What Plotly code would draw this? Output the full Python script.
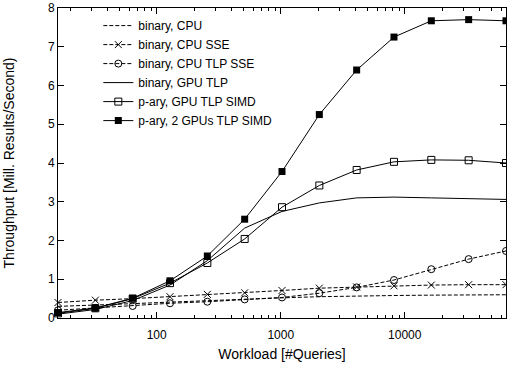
import plotly.graph_objects as go

workload = [16, 32, 64, 128, 256, 512, 1024, 2048, 4096, 8192, 16384, 32768, 65536]

binary_cpu = [0.30, 0.33, 0.37, 0.41, 0.45, 0.49, 0.52, 0.55, 0.57, 0.58, 0.59, 0.60, 0.60]
binary_cpu_sse = [0.40, 0.46, 0.50, 0.55, 0.61, 0.65, 0.71, 0.77, 0.80, 0.83, 0.85, 0.86, 0.86]
binary_cpu_tlp_sse = [0.20, 0.26, 0.31, 0.38, 0.42, 0.48, 0.53, 0.64, 0.79, 0.98, 1.26, 1.52, 1.73]
binary_gpu_tlp = [0.10, 0.22, 0.45, 0.85, 1.48, 2.32, 2.75, 2.97, 3.10, 3.12, 3.10, 3.08, 3.06]
pary_gpu_tlp_simd = [0.12, 0.25, 0.50, 0.90, 1.42, 2.04, 2.86, 3.42, 3.82, 4.03, 4.08, 4.07, 4.00]
pary_2gpu_tlp_simd = [0.14, 0.26, 0.51, 0.96, 1.60, 2.55, 3.78, 5.25, 6.40, 7.25, 7.67, 7.70, 7.67]

series_names = [
    "binary, CPU",
    "binary, CPU SSE",
    "binary, CPU TLP SSE",
    "binary, GPU TLP",
    "p-ary, GPU TLP SIMD",
    "p-ary, 2 GPUs TLP SIMD",
]

x_major_ticks = [100, 1000, 10000]
x_minor_ticks = [20, 30, 40, 50, 60, 70, 80, 90,
                 200, 300, 400, 500, 600, 700, 800, 900,
                 2000, 3000, 4000, 5000, 6000, 7000, 8000, 9000,
                 20000, 30000, 40000, 50000, 60000]
y_ticks = [0, 1, 2, 3, 4, 5, 6, 7, 8]

fig = go.Figure()

styles = [
    dict(dash="4px,2px", mode="lines", marker=None),
    dict(dash="4px,2px", mode="lines+markers", marker=dict(symbol="x-thin-open", size=7, color="black", line=dict(width=1, color="black"))),
    dict(dash="4px,2px", mode="lines+markers", marker=dict(symbol="circle-open", size=7, color="black", line=dict(width=1, color="black"))),
    dict(dash="solid", mode="lines", marker=None),
    dict(dash="solid", mode="lines+markers", marker=dict(symbol="square-open", size=7, color="black", line=dict(width=1, color="black"))),
    dict(dash="solid", mode="lines+markers", marker=dict(symbol="square", size=7, color="black")),
]
data = [binary_cpu, binary_cpu_sse, binary_cpu_tlp_sse, binary_gpu_tlp, pary_gpu_tlp_simd, pary_2gpu_tlp_simd]

for name, vals, st in zip(series_names, data, styles):
    kw = dict(x=workload, y=vals, name=name, mode=st["mode"], cliponaxis=False,
              line=dict(color="black", width=1, dash=st["dash"]))
    if st["marker"] is not None:
        kw["marker"] = st["marker"]
    fig.add_trace(go.Scatter(**kw))

font_family = "Liberation Sans, Arial, sans-serif"

fig.update_layout(
    width=507, height=371,
    margin=dict(l=58, r=1, t=8, b=53),
    paper_bgcolor="white", plot_bgcolor="white",
    font=dict(family=font_family, size=12, color="black"),
    showlegend=True,
    legend=dict(x=0.09, y=0.99, xanchor="left", yanchor="top",
                bgcolor="rgba(0,0,0,0)", borderwidth=0,
                font=dict(size=12), tracegroupgap=0),
    xaxis=dict(
        type="log", range=[1.2040, 4.8166], automargin=False,
        tickmode="array", tickvals=x_major_ticks, ticktext=[str(v) for v in x_major_ticks],
        ticks="inside", ticklen=6, tickwidth=1, tickcolor="black",
        ticklabelstandoff=6,
        minor=dict(tickmode="array", tickvals=x_minor_ticks, ticks="inside", ticklen=3, tickcolor="black", showgrid=False),
        showline=True, linecolor="black", linewidth=1, mirror="ticks",
        showgrid=False, zeroline=False,
        title=dict(text="Workload [#Queries]", standoff=7),
    ),
    yaxis=dict(
        range=[0, 8], automargin=False,
        tickmode="array", tickvals=y_ticks,
        ticks="inside", ticklen=6, tickwidth=1, tickcolor="black",
        showline=True, linecolor="black", linewidth=1, mirror="ticks",
        showgrid=False, zeroline=False,
        title=dict(text="Throughput [Mill. Results/Second)", standoff=30),
    ),
)

fig.write_html("out.html", config={"displayModeBar": False},
               post_script="document.body.style.margin='0';")
